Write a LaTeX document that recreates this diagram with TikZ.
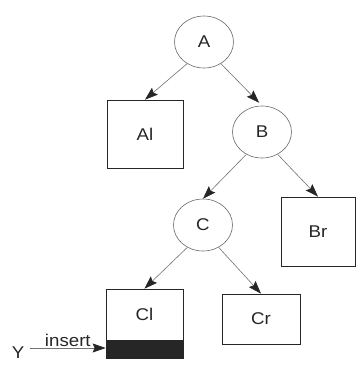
\documentclass[tikz,border=0pt]{standalone}
\usepackage{fontspec}
\setmainfont[FakeStretch=1.1]{Liberation Sans}
\usetikzlibrary{shapes.geometric,arrows.meta}
\begin{document}
\begin{tikzpicture}[x=1pt,y=-1pt,
  every node/.style={font=\fontsize{17}{19}\selectfont, text=black!85, inner sep=0pt},
  inner/.style={draw=black!60, line width=0.6pt, ellipse, minimum width=59pt, minimum height=52pt},
  leaf/.style={draw=black!85, line width=0.7pt, rectangle},
  edge/.style={draw=black!55, line width=0.6pt,
    -{Stealth[length=13pt,width=9pt,inset=2pt,color=black!85]}}]
  \useasboundingbox (0,0) rectangle (356,368);

  % internal nodes of the tree
  \node[inner] (A) at (204,42) {A};
  \node[inner] (B) at (262,132) {B};
  \node[inner] (C) at (203,225) {C};

  % leaf subtrees
  \node[leaf, minimum width=76pt, minimum height=68pt] (Al) at (145,134) {Al};
  \node[leaf, minimum width=74pt, minimum height=69pt] (Br) at (318,231.5) {Br};
  \node[leaf, minimum width=77pt, minimum height=51pt] (Cl) at (144.5,314.5) {Cl};
  \node[leaf, minimum width=78pt, minimum height=50pt] (Cr) at (261,319) {Cr};
  \node[leaf, fill=black!85, minimum width=77pt, minimum height=18pt, anchor=north] (Clnew) at (Cl.south) {};

  % tree edges
  \draw[edge] (A.232) -- (Al.north);
  \draw[edge, shorten >=4pt] (A.-52) -- (B.north);
  \draw[edge] (B.-125) -- (C.north);
  \draw[edge] (B.-55) -- (Br.north);
  \draw[edge] (C.-125) -- (Cl.north);
  \draw[edge] (C.-55) -- (Cr.north);

  % insertion of Y
  \node (Y) at (18,353) {Y};
  \coordinate (ystart) at (30,348);
  \draw[edge] (ystart) -- (ystart -| Clnew.west) node[midway, above=1pt] {insert};
\end{tikzpicture}
\end{document}
